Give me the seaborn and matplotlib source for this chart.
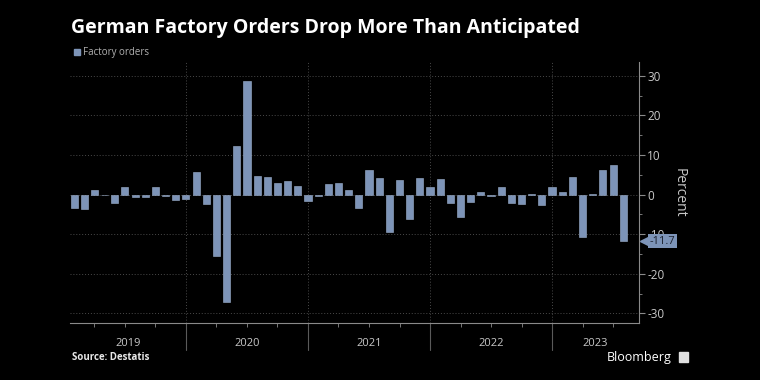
import numpy as np
import pandas as pd
import matplotlib
matplotlib.use("Agg")
import matplotlib.pyplot as plt
import matplotlib.transforms as mtransforms
import seaborn as sns

# Monthly % change in German factory orders, Jan 2019 - Jul 2023
months = pd.date_range("2019-01-31", periods=55, freq="ME").strftime("%Y-%m").tolist()
orders = [
    -3.3, -3.6, 1.3, -0.1, -2.0, 1.9, -0.6, -0.6, 2.0, -0.4, -1.4, -1.2,   # 2019
    5.7, -2.3, -15.6, -27.0, 12.2, 28.6, 4.6, 4.5, 3.0, 3.5, 2.2, -1.7,    # 2020
    -0.4, 2.7, 2.9, 1.2, -3.4, 6.2, 4.1, -9.3, 3.7, -6.2, 4.1, 1.9,        # 2021
    3.9, -2.2, -5.7, -1.8, 0.6, -0.4, 1.9, -2.0, -2.3, 0.2, -2.6, 1.9,     # 2022
    0.8, 4.4, -10.6, 0.2, 6.2, 7.6, -11.7,                                 # 2023
]
years = ["2019", "2020", "2021", "2022", "2023"]
y_ticks = [-30, -20, -10, 0, 10, 20, 30]

BAR = "#7d94b8"
GRID = "#4a4a4a"
AXIS = "#8a8a8a"
TEXT = "#c8c8c8"

df = pd.DataFrame({"month": months, "orders": orders})

sns.set_style("dark", {"axes.facecolor": "black", "figure.facecolor": "black"})
plt.rcParams["font.family"] = ["Open Sans", "DejaVu Sans"]

fig = plt.figure(figsize=(7.6, 3.8), dpi=100)
fig.patch.set_facecolor("black")
ax = fig.add_axes([70 / 760, 57 / 380, 569 / 760, 261 / 380])
ax.set_facecolor("black")

sns.barplot(data=df, x="month", y="orders", color=BAR, width=0.7,
            saturation=1, edgecolor="#9fb2cf", linewidth=0.4, ax=ax, zorder=3)

x_lo, x_hi = -0.4, 55.55
ax.set_xlim(x_lo, x_hi)
ax.set_ylim(-32.4, 33.5)

# y axis on the right
ax.yaxis.tick_right()
ax.yaxis.set_label_position("right")
ax.set_yticks(y_ticks)
ax.set_yticklabels([str(v) for v in y_ticks])
ax.set_yticks(np.arange(-30, 31, 5), minor=True)
ax.tick_params(axis="y", which="major", colors=AXIS, labelcolor=TEXT, length=4,
               width=0.8, labelsize=8.5, pad=2, right=True, left=False)
ax.tick_params(axis="y", which="minor", colors=AXIS, length=2, width=0.6, right=True, left=False)
ax.set_ylabel("Percent", color=TEXT, fontsize=10, rotation=270, labelpad=16)

# x axis: quarterly ticks, year dividers
dividers = [11, 23, 35, 47]
ax.set_xticks(np.arange(2, 55, 3))
ax.set_xticklabels([])
ax.tick_params(axis="x", colors=AXIS, length=3, width=0.6, bottom=True)
ax.set_xlabel("")

for s in ["top", "left"]:
    ax.spines[s].set_visible(False)
for s in ["bottom", "right"]:
    ax.spines[s].set_visible(True)
    ax.spines[s].set_color(AXIS)
    ax.spines[s].set_linewidth(0.8)

for v in y_ticks:
    ax.axhline(v, color=GRID, linestyle=(0, (1, 2)), linewidth=0.7, zorder=1)

trans = mtransforms.blended_transform_factory(ax.transData, ax.transAxes)
for d in dividers:
    ax.axvline(d, color=GRID, linestyle=(0, (1, 2)), linewidth=0.7, zorder=1)
    ax.plot([d, d], [0, -0.105], color="#5a5a5a", linewidth=0.8,
            transform=trans, clip_on=False)

bounds = [x_lo] + dividers + [x_hi]
for i, yr in enumerate(years):
    ax.text((bounds[i] + bounds[i + 1]) / 2, -0.08, yr, transform=trans,
            ha="center", va="center", color=TEXT, fontsize=8)

# last value label: small tag with a notch pointing at the axis
ytrans = mtransforms.blended_transform_factory(ax.transAxes, ax.transData)
ax.plot([1.008], [orders[-1]], marker="<", markersize=6, color=BAR,
        transform=ytrans, clip_on=False, zorder=6)
ax.text(1.018, orders[-1], f"{orders[-1]:.1f}", transform=ytrans, ha="left", va="center",
        fontsize=8, color="#1c2230", zorder=7,
        bbox=dict(boxstyle="square,pad=0.15", fc=BAR, ec="none"))

# titles and legend
fig.text(71 / 760, 1 - 28 / 380, "German Factory Orders Drop More Than Anticipated",
         color="white", fontsize=14, fontweight="bold", ha="left", va="center")
fig.patches.append(plt.Rectangle((74 / 760, 1 - 55 / 380), 6 / 760, 6 / 380,
                                 transform=fig.transFigure, color=BAR))
fig.text(83 / 760, 1 - 52 / 380, "Factory orders", color="#b0b0b0", fontsize=7,
         ha="left", va="center")

fig.text(72 / 760, 1 - 358 / 380, "Source: Destatis", color="#e8e8e8", fontsize=7,
         fontweight="bold", ha="left", va="center")
fig.text(672 / 760, 1 - 357 / 380, "Bloomberg", color="white", fontsize=9,
         ha="right", va="center")
fig.patches.append(plt.Rectangle((679 / 760, 1 - 362 / 380), 9 / 760, 10 / 380,
                                 transform=fig.transFigure, color="#e0e0e0"))

fig.savefig("out.png", dpi=100, facecolor="black")
